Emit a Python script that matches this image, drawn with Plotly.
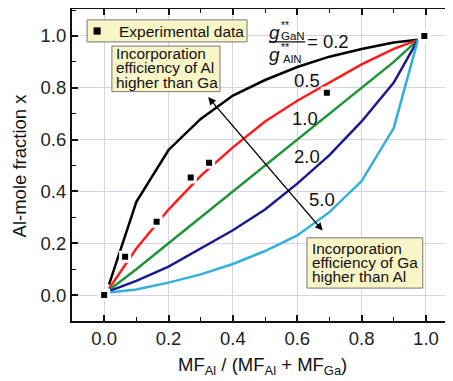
import plotly.graph_objects as go

# MF_Al / (MF_Al + MF_Ga) sample points of the model curves
mf_ratio = [0.015, 0.1, 0.2, 0.3, 0.4, 0.5, 0.6, 0.7, 0.8, 0.9, 0.975]
x_g02 = [0.04, 0.36, 0.56, 0.68, 0.77, 0.83, 0.88, 0.92, 0.95, 0.975, 0.985]
x_g05 = [0.025, 0.18, 0.33, 0.46, 0.57, 0.67, 0.75, 0.82, 0.89, 0.95, 0.985]
x_g10 = [0.02, 0.10, 0.20, 0.30, 0.40, 0.50, 0.60, 0.70, 0.80, 0.90, 0.985]
x_g20 = [0.015, 0.055, 0.11, 0.18, 0.25, 0.33, 0.43, 0.54, 0.67, 0.82, 0.985]
x_g50 = [0.01, 0.022, 0.048, 0.08, 0.12, 0.17, 0.23, 0.32, 0.44, 0.645, 0.985]

exp_mf = [0.0, 0.065, 0.163, 0.269, 0.326, 0.692, 0.995]
exp_x = [0.0, 0.148, 0.283, 0.454, 0.511, 0.781, 1.0]

curve_labels = ["0.5", "1.0", "2.0", "5.0"]
curve_label_x = [0.630, 0.624, 0.630, 0.677]
curve_label_y = [0.830, 0.683, 0.533, 0.367]

FONT = "Liberation Sans, Arial, sans-serif"
TXT = "#111"
BOXFILL = "#f9f5c6"

fig = go.Figure()
curves = [
    (x_g02, "#000000"),
    (x_g05, "#ff1a1a"),
    (x_g10, "#1f9436"),
    (x_g20, "#1c1a8a"),
    (x_g50, "#33b0da"),
]
for ys, col in curves:
    fig.add_trace(go.Scatter(x=mf_ratio, y=ys, mode="lines",
                             line=dict(color=col, width=2.5),
                             showlegend=False, hoverinfo="skip"))

fig.add_trace(go.Scatter(x=exp_mf, y=exp_x, mode="markers", name="Experimental data",
                         marker=dict(symbol="square", size=9, color="black",
                                     line=dict(color="white", width=3)),
                         showlegend=False))
# dummy trace for right-side mirrored ticks
fig.add_trace(go.Scatter(x=[None], y=[None], yaxis="y2", showlegend=False))


def dann(x, y, text, size, **kw):
    d = dict(x=x, y=y, xref="x", yref="y", text=text, showarrow=False,
             xanchor="center", yanchor="middle",
             font=dict(size=size, color=TXT, family=FONT))
    d.update(kw)
    return d


ann = []
for t, lx, ly in zip(curve_labels, curve_label_x, curve_label_y):
    ann.append(dann(lx, ly, t, 18.5))

# fraction label g**GaN / g**AlN = 0.2
ann += [
    dann(0.528, 1.012, "<i>g</i>", 19),
    dann(0.563, 1.042, "**", 10.5),
    dann(0.586, 0.998, "GaN", 11.5),
    dann(0.528, 0.930, "<i>g</i>", 19),
    dann(0.563, 0.958, "**", 10.5),
    dann(0.584, 0.912, "AlN", 11.5),
    dann(0.697, 0.977, "= 0.2", 18.5),
]

# legend text (manual legend box)
ann.append(dann(0.040, 1.019, "Experimental data", 15.5, xanchor="left"))

# text boxes
box1_lines = ["Incorporation", "efficiency of Al", "higher than Ga"]
box1_y = [0.934, 0.877, 0.822]
for t, yy in zip(box1_lines, box1_y):
    ann.append(dann(0.030, yy, t, 15.4, xanchor="left"))
box2_lines = ["Incorporation", "efficiency of Ga", "higher than Al"]
box2_y = [0.181, 0.127, 0.073]
for t, yy in zip(box2_lines, box2_y):
    ann.append(dann(0.641, yy, t, 15.4, xanchor="left"))

# double-headed arrow
ann.append(dict(x=0.323, y=0.764, ax=0.683, ay=0.243, xref="x", yref="y",
                axref="x", ayref="y", text="", showarrow=True, arrowhead=2,
                startarrowhead=2, arrowside="end+start", arrowsize=1.1,
                startarrowsize=1.1, arrowwidth=1.4, arrowcolor="black"))

# axis titles
ann.append(dict(x=-0.138, y=0.5, xref="paper", yref="paper", textangle=-90,
                xanchor="center", yanchor="middle",
                text="Al-mole fraction x", showarrow=False,
                font=dict(size=18.5, color=TXT, family=FONT)))
ann.append(dict(x=0.5, y=-0.098, xref="paper", yref="paper",
                xanchor="center", yanchor="top",
                text="MF<sub>Al</sub> / (MF<sub>Al</sub> + MF<sub>Ga</sub>)",
                showarrow=False, font=dict(size=18.5, color=TXT, family=FONT)))

shapes = [
    # legend box and symbol
    dict(type="rect", xref="x", yref="y", x0=-0.053, x1=0.444, y0=0.977, y1=1.062,
         fillcolor=BOXFILL, line=dict(color="#777", width=1), layer="above"),
    dict(type="rect", xref="x", yref="y", x0=-0.033, x1=-0.011, y0=1.005, y1=1.033,
         fillcolor="black", line=dict(color="black", width=0), layer="above"),
    # text boxes
    dict(type="rect", xref="x", yref="y", x0=0.024, x1=0.360, y0=0.785, y1=0.961,
         fillcolor=BOXFILL, line=dict(color="#777", width=1), layer="above"),
    dict(type="rect", xref="x", yref="y", x0=0.630, x1=0.990, y0=0.027, y1=0.221,
         fillcolor=BOXFILL, line=dict(color="#777", width=1), layer="above"),
    # fraction bar
    dict(type="line", xref="x", yref="y", x0=0.512, x1=0.625, y0=0.977, y1=0.977,
         line=dict(color=TXT, width=1.3)),
]

grid_col = "#d3d3ea"
axis_common = dict(
    ticks="inside", ticklen=6, tickwidth=1.5, tickcolor="#111",
    showgrid=True, gridcolor=grid_col, gridwidth=1, zeroline=False,
    tickfont=dict(size=18.5, color="#222", family=FONT),
    minor=dict(ticks="inside", ticklen=4, tickwidth=1.3, tickcolor="#111",
               dtick=0.1, showgrid=False),
)

fig.update_layout(
    width=445, height=373,
    margin=dict(l=64, r=0, t=1, b=60, autoexpand=False),
    plot_bgcolor="white", paper_bgcolor="white",
    font=dict(family=FONT),
    showlegend=False,
    xaxis=dict(range=[-0.1, 1.084], tick0=0, dtick=0.2, tickformat=".1f",
               showline=True, linecolor="#111", linewidth=2, mirror="ticks",
               automargin=False, **axis_common),
    yaxis=dict(range=[-0.1, 1.104], tick0=0, dtick=0.2, tickformat=".1f",
               showline=True, linecolor="#111", linewidth=2, mirror=False,
               automargin=False, **axis_common),
    yaxis2=dict(range=[-0.1, 1.104], tick0=0, dtick=0.2, overlaying="y", side="right",
                ticks="inside", ticklen=6, tickwidth=1.5, tickcolor="#111",
                showticklabels=False, showgrid=False, zeroline=False, showline=False,
                automargin=False,
                minor=dict(ticks="inside", ticklen=4, tickwidth=1.3, tickcolor="#111",
                           dtick=0.1)),
    annotations=ann,
    shapes=shapes,
)

fig.write_html("out.html")
